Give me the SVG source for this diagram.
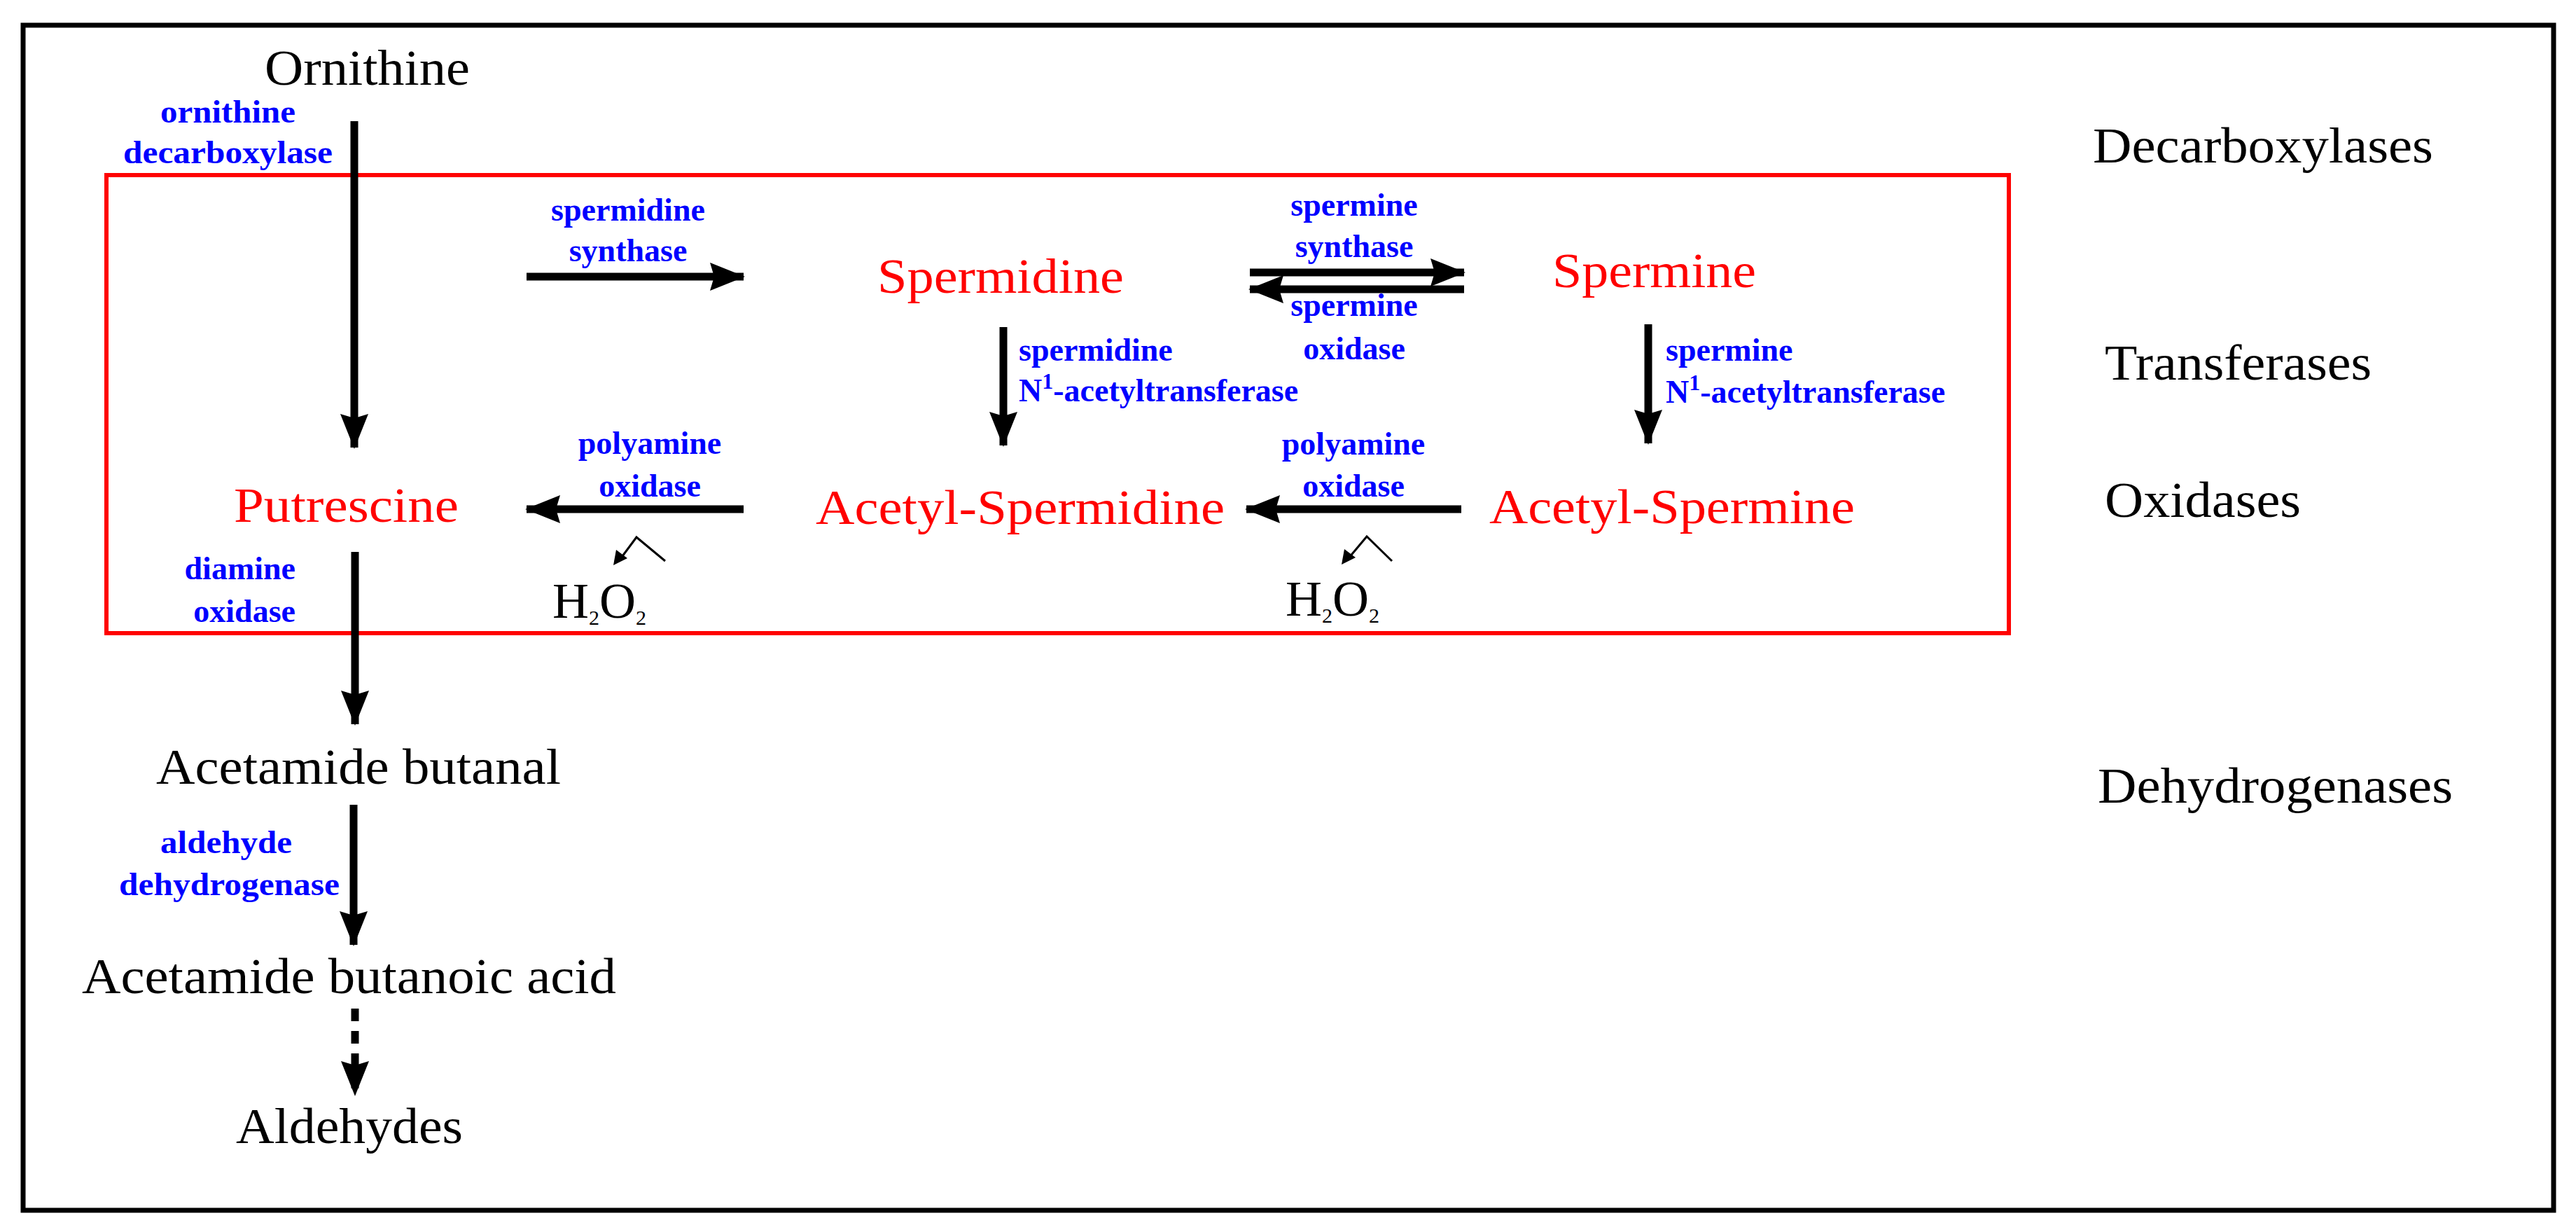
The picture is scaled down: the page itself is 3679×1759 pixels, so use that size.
<svg xmlns="http://www.w3.org/2000/svg" width="3679" height="1759" viewBox="0 0 3679 1759">
<style>
.blk{font-family:"Liberation Serif",serif;font-size:72px;fill:#000}
.red{font-family:"Liberation Serif",serif;font-size:70px;fill:#ff0000}
.enz{font-family:"Liberation Serif",serif;font-size:46px;font-weight:bold;fill:#0000ff}
.ln{stroke:#000;stroke-width:11;fill:none}
.thin{stroke:#000;stroke-width:3;fill:none}
</style>
<defs>
<marker id="ah" markerUnits="userSpaceOnUse" markerWidth="50" markerHeight="40" refX="48" refY="20" orient="auto">
<polygon points="0,0 50,20 0,40 6,20" fill="#000"/>
</marker>
</defs>
<rect x="33" y="36" width="3614" height="1692" fill="none" stroke="#000" stroke-width="7"/>
<rect x="152" y="250" width="2717" height="654" fill="none" stroke="#ff0000" stroke-width="6"/>
<g id="connectors">
<line class="ln" x1="506" y1="173" x2="506" y2="639" marker-end="url(#ah)"/>
<line class="ln" x1="752" y1="395" x2="1062" y2="395" marker-end="url(#ah)"/>
<line class="ln" x1="1433" y1="467" x2="1433" y2="636" marker-end="url(#ah)"/>
<line class="ln" x1="1062" y1="727" x2="752" y2="727" marker-end="url(#ah)"/>
<line class="ln" x1="1785" y1="389" x2="2091" y2="389" marker-end="url(#ah)"/>
<line class="ln" x1="2091" y1="413" x2="1785" y2="413" marker-end="url(#ah)"/>
<line class="ln" x1="2354" y1="463" x2="2354" y2="633" marker-end="url(#ah)"/>
<line class="ln" x1="2087" y1="727" x2="1780" y2="727" marker-end="url(#ah)"/>
<line class="ln" x1="507" y1="788" x2="507" y2="1034" marker-end="url(#ah)"/>
<line class="ln" x1="505" y1="1149" x2="505" y2="1349" marker-end="url(#ah)"/>
<line class="ln" x1="507" y1="1440" x2="507" y2="1563" stroke-dasharray="18,14" marker-end="url(#ah)"/>
<polyline class="thin" points="950,801 909,767 886,798"/>
<polygon points="876,807 880,785 896,797" fill="#000"/>
<polyline class="thin" points="1988,801 1952,766 1926,797"/>
<polygon points="1916,806 1920,784 1936,796" fill="#000"/>
</g>
<g id="ornithine"><text class="blk" x="378" y="121" textLength="293" lengthAdjust="spacingAndGlyphs">Ornithine</text></g>
<g id="odc"><text class="enz" x="229" y="175" textLength="193" lengthAdjust="spacingAndGlyphs">ornithine</text><text class="enz" x="176" y="233" textLength="299" lengthAdjust="spacingAndGlyphs">decarboxylase</text></g>
<g id="sds"><text class="enz" x="897" y="315" text-anchor="middle">spermidine</text><text class="enz" x="897" y="373" text-anchor="middle">synthase</text></g>
<g id="spermidine"><text class="red" x="1253" y="418" textLength="352" lengthAdjust="spacingAndGlyphs">Spermidine</text></g>
<g id="sms"><text class="enz" x="1934" y="308" text-anchor="middle">spermine</text><text class="enz" x="1934" y="367" text-anchor="middle">synthase</text></g>
<g id="smo"><text class="enz" x="1934" y="451" text-anchor="middle">spermine</text><text class="enz" x="1934" y="513" text-anchor="middle">oxidase</text></g>
<g id="spermine"><text class="red" x="2217" y="410" textLength="291" lengthAdjust="spacingAndGlyphs">Spermine</text></g>
<g id="ssat1"><text class="enz" x="1455" y="515">spermidine</text><text class="enz" x="1455" y="573">N<tspan dy="-18" font-size="32">1</tspan><tspan dy="18">-acetyltransferase</tspan></text></g>
<g id="ssat2"><text class="enz" x="2379" y="515">spermine</text><text class="enz" x="2379" y="575">N<tspan dy="-18" font-size="32">1</tspan><tspan dy="18">-acetyltransferase</tspan></text></g>
<g id="pao1"><text class="enz" x="928" y="648" text-anchor="middle">polyamine</text><text class="enz" x="928" y="709" text-anchor="middle">oxidase</text></g>
<g id="pao2"><text class="enz" x="1933" y="649" text-anchor="middle">polyamine</text><text class="enz" x="1933" y="709" text-anchor="middle">oxidase</text></g>
<g id="putrescine"><text class="red" x="334" y="745" textLength="321" lengthAdjust="spacingAndGlyphs">Putrescine</text></g>
<g id="acetylspermidine"><text class="red" x="1165" y="748" textLength="584" lengthAdjust="spacingAndGlyphs">Acetyl-Spermidine</text></g>
<g id="acetylspermine"><text class="red" x="2127" y="747" textLength="522" lengthAdjust="spacingAndGlyphs">Acetyl-Spermine</text></g>
<g id="h2o2a"><text class="blk" x="789" y="882" font-size="48">H<tspan dy="10" font-size="30">2</tspan><tspan dy="-10">O</tspan><tspan dy="10" font-size="30">2</tspan></text></g>
<g id="h2o2b"><text class="blk" x="1836" y="879" font-size="48">H<tspan dy="10" font-size="30">2</tspan><tspan dy="-10">O</tspan><tspan dy="10" font-size="30">2</tspan></text></g>
<g id="dao"><text class="enz" x="422" y="827" text-anchor="end">diamine</text><text class="enz" x="422" y="888" text-anchor="end">oxidase</text></g>
<g id="acetamidebutanal"><text class="blk" x="223" y="1119" textLength="578" lengthAdjust="spacingAndGlyphs">Acetamide butanal</text></g>
<g id="aldh"><text class="enz" x="229" y="1218" textLength="188" lengthAdjust="spacingAndGlyphs">aldehyde</text><text class="enz" x="170" y="1278" textLength="315" lengthAdjust="spacingAndGlyphs">dehydrogenase</text></g>
<g id="acetamidebutanoic"><text class="blk" x="117" y="1418" textLength="763" lengthAdjust="spacingAndGlyphs">Acetamide butanoic acid</text></g>
<g id="aldehydes"><text class="blk" x="337" y="1632" textLength="324" lengthAdjust="spacingAndGlyphs">Aldehydes</text></g>
<g id="decarboxylases"><text class="blk" x="2989" y="232" textLength="486" lengthAdjust="spacingAndGlyphs">Decarboxylases</text></g>
<g id="transferases"><text class="blk" x="3006" y="542" textLength="381" lengthAdjust="spacingAndGlyphs">Transferases</text></g>
<g id="oxidases"><text class="blk" x="3006" y="738" textLength="280" lengthAdjust="spacingAndGlyphs">Oxidases</text></g>
<g id="dehydrogenases"><text class="blk" x="2996" y="1146" textLength="507" lengthAdjust="spacingAndGlyphs">Dehydrogenases</text></g>
</svg>
